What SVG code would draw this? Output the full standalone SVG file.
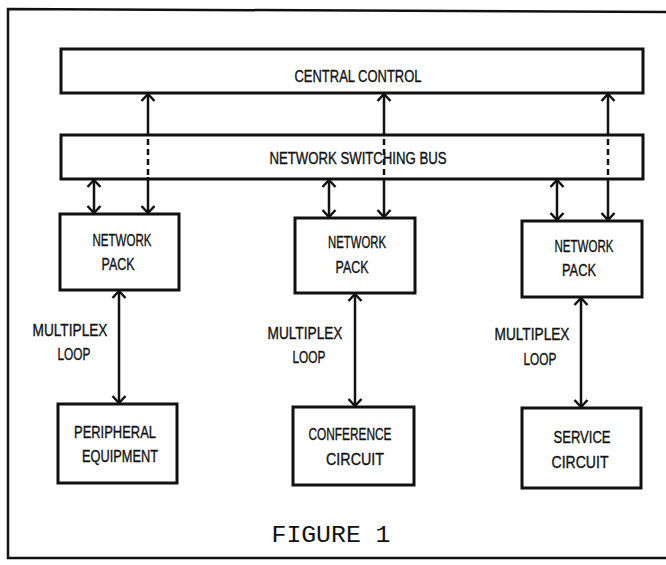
<svg xmlns="http://www.w3.org/2000/svg" width="666" height="565" viewBox="0 0 666 565">
<defs>
<style>
.box{fill:#fff;stroke:#111;stroke-width:3}
.frame{fill:none;stroke:#111;stroke-width:2.5}
.ln{fill:none;stroke:#111;stroke-width:2.5}
.dash{fill:none;stroke:#111;stroke-width:2.5;stroke-dasharray:6 4}
.lbl{font-family:"Liberation Sans",Arial,sans-serif;font-size:16px;fill:#111;stroke:#111;stroke-width:0.35;text-anchor:middle}
.fig{font-family:"Liberation Mono","Courier New",monospace;font-size:24px;fill:#111;text-anchor:middle}
</style>
<marker id="ah" viewBox="-10 -8 12 16" refX="0" refY="0" markerWidth="12" markerHeight="16" markerUnits="userSpaceOnUse" orient="auto-start-reverse">
<path d="M-7,-6.5 L0,0 L-7,6.5" fill="none" stroke="#111" stroke-width="2.5"/>
</marker>
</defs>
<rect width="666" height="565" fill="#fff"/>
<g id="frame">
<path class="frame" d="M666,12 L8,9 L8,558 L666,558"/>
</g>
<g id="central-control">
<rect class="box" x="61" y="49" width="582" height="44"/>
<text class="lbl" x="358" y="82" textLength="127" lengthAdjust="spacingAndGlyphs">CENTRAL CONTROL</text>
</g>
<g id="network-switching-bus">
<rect class="box" x="61" y="135" width="582" height="44"/>
<text class="lbl" x="358" y="164" textLength="177" lengthAdjust="spacingAndGlyphs">NETWORK SWITCHING BUS</text>
</g>
<g id="network-pack-1">
<rect class="box" x="60" y="214" width="119" height="76"/>
<text class="lbl" x="122" y="246" textLength="59" lengthAdjust="spacingAndGlyphs">NETWORK</text>
<text class="lbl" x="118" y="270" textLength="33" lengthAdjust="spacingAndGlyphs">PACK</text>
</g>
<g id="network-pack-2">
<rect class="box" x="295" y="218" width="120" height="75"/>
<text class="lbl" x="357" y="248" textLength="58" lengthAdjust="spacingAndGlyphs">NETWORK</text>
<text class="lbl" x="352" y="273" textLength="33" lengthAdjust="spacingAndGlyphs">PACK</text>
</g>
<g id="network-pack-3">
<rect class="box" x="522" y="221" width="120" height="76"/>
<text class="lbl" x="584" y="252" textLength="59" lengthAdjust="spacingAndGlyphs">NETWORK</text>
<text class="lbl" x="579" y="276" textLength="34" lengthAdjust="spacingAndGlyphs">PACK</text>
</g>
<g id="peripheral-equipment">
<rect class="box" x="58" y="404" width="119" height="79"/>
<text class="lbl" x="115" y="438" textLength="82" lengthAdjust="spacingAndGlyphs">PERIPHERAL</text>
<text class="lbl" x="120" y="462" textLength="76" lengthAdjust="spacingAndGlyphs">EQUIPMENT</text>
</g>
<g id="conference-circuit">
<rect class="box" x="293" y="407" width="121" height="78"/>
<text class="lbl" x="350" y="440" textLength="83" lengthAdjust="spacingAndGlyphs">CONFERENCE</text>
<text class="lbl" x="355" y="465" textLength="58" lengthAdjust="spacingAndGlyphs">CIRCUIT</text>
</g>
<g id="service-circuit">
<rect class="box" x="522" y="408" width="119" height="80"/>
<text class="lbl" x="582" y="443" textLength="57" lengthAdjust="spacingAndGlyphs">SERVICE</text>
<text class="lbl" x="580" y="468" textLength="57" lengthAdjust="spacingAndGlyphs">CIRCUIT</text>
</g>
<g id="connectors">
<line class="ln" x1="148" y1="135" x2="148" y2="94" marker-end="url(#ah)"/>
<line class="dash" x1="148" y1="139" x2="148" y2="176"/>
<line class="ln" x1="148" y1="177" x2="148" y2="213" marker-end="url(#ah)"/>
<line class="ln" x1="384" y1="135" x2="384" y2="94" marker-end="url(#ah)"/>
<line class="dash" x1="384" y1="139" x2="384" y2="178"/>
<line class="ln" x1="384" y1="179" x2="384" y2="217" marker-end="url(#ah)"/>
<line class="ln" x1="608" y1="135" x2="608" y2="94" marker-end="url(#ah)"/>
<line class="dash" x1="608" y1="139" x2="608" y2="178"/>
<line class="ln" x1="608" y1="179" x2="608" y2="220" marker-end="url(#ah)"/>
<line class="ln" x1="94" y1="180" x2="94" y2="213" marker-start="url(#ah)" marker-end="url(#ah)"/>
<line class="ln" x1="329" y1="180" x2="329" y2="217" marker-start="url(#ah)" marker-end="url(#ah)"/>
<line class="ln" x1="557" y1="180" x2="557" y2="220" marker-start="url(#ah)" marker-end="url(#ah)"/>
<line class="ln" x1="119" y1="291" x2="119" y2="403" marker-start="url(#ah)" marker-end="url(#ah)"/>
<line class="ln" x1="355" y1="294" x2="355" y2="406" marker-start="url(#ah)" marker-end="url(#ah)"/>
<line class="ln" x1="581" y1="298" x2="581" y2="407" marker-start="url(#ah)" marker-end="url(#ah)"/>
</g>
<g id="labels">
<text class="lbl" x="70" y="336" textLength="75" lengthAdjust="spacingAndGlyphs">MULTIPLEX</text>
<text class="lbl" x="74" y="360" textLength="33" lengthAdjust="spacingAndGlyphs">LOOP</text>
<text class="lbl" x="305" y="339" textLength="75" lengthAdjust="spacingAndGlyphs">MULTIPLEX</text>
<text class="lbl" x="309" y="363" textLength="33" lengthAdjust="spacingAndGlyphs">LOOP</text>
<text class="lbl" x="532" y="340" textLength="75" lengthAdjust="spacingAndGlyphs">MULTIPLEX</text>
<text class="lbl" x="540" y="365" textLength="33" lengthAdjust="spacingAndGlyphs">LOOP</text>
<text class="fig" x="331" y="542" textLength="119" lengthAdjust="spacingAndGlyphs">FIGURE 1</text>
</g>
</svg>
